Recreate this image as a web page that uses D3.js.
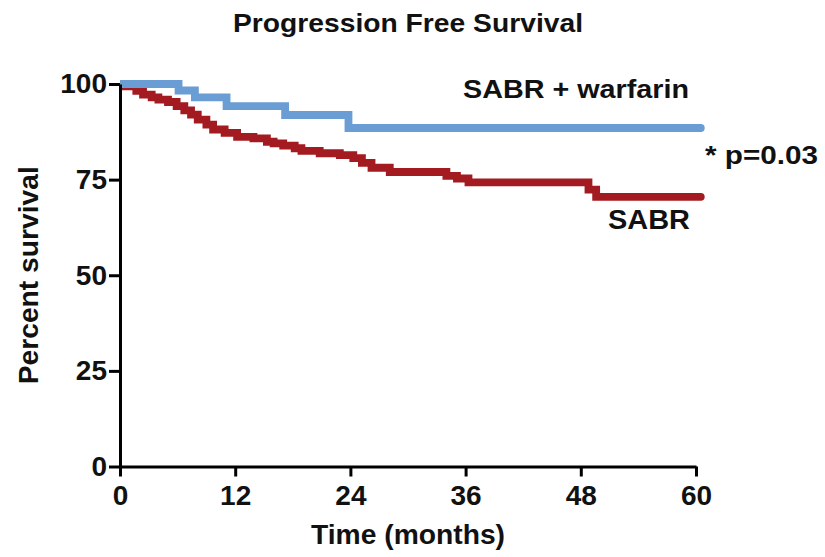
<!DOCTYPE html>
<html>
<head>
<meta charset="utf-8">
<script src="https://cdn.jsdelivr.net/npm/d3@7"></script>
<style>
    body { margin: 0; background: #fff; }
    text { font-family: "Liberation Sans", Arial, sans-serif; font-weight: bold; fill: #111; }
</style>
</head>
<body>
<svg id="Chart"></svg>
<script>
// SABR alone (red)
let sabrTimes = [0, 0.6, 1.7, 2.4, 3.3, 4.0, 5.0, 5.9, 6.7, 7.4, 8.1, 9.0, 9.7, 10.9, 12.2, 13.9,
    15.3, 16.0, 17.0, 18.2, 18.9, 20.8, 22.9, 24.3, 25.2, 26.2, 28.1, 34.0, 35.1, 36.3, 48.8, 49.6, 60.5];
let sabrSurvival = [100, 99.4, 98.2, 97.2, 96.5, 95.9, 95.3, 94.2, 93.1, 92.0, 90.7, 89.4, 88.1, 87.2, 86.2, 85.8,
    84.9, 84.5, 83.9, 83.2, 82.5, 81.9, 81.4, 80.6, 79.4, 78.1, 77.0, 76.0, 75.3, 74.3, 72.4, 70.5, 70.5];

// SABR + warfarin (blue)
let warfTimes = [0, 6.1, 7.8, 11.1, 17.2, 23.8, 60.5];
let warfSurvival = [100, 98.3, 96.5, 94.2, 91.9, 88.5, 88.5];

let xTicks = [0, 12, 24, 36, 48, 60];
let yTicks = [0, 25, 50, 75, 100];

function getConfig() {
    let width = 825;
    let height = 557;
    let margin = { top: 84, bottom: 90.5, left: 120, right: 129 };
    let container = d3.select("#Chart")
        .attr("width", width)
        .attr("height", height);
    return { width, height, margin, container };
}

function getScales(config) {
    let { width, height, margin } = config;
    let xScale = d3.scaleLinear()
        .domain([0, 60])
        .range([margin.left, width - margin.right]);
    let yScale = d3.scaleLinear()
        .domain([0, 100])
        .range([height - margin.bottom, margin.top]);
    return { xScale, yScale };
}

function toPoints(times, values) {
    return times.map((t, i) => ({ t: t, v: values[i] }));
}

function drawCurves(config, scales) {
    let { container, width, height } = config;
    let { xScale, yScale } = scales;

    container.append("clipPath").attr("id", "plotClip")
        .append("rect")
        .attr("x", xScale(0))
        .attr("y", 0)
        .attr("width", width - xScale(0))
        .attr("height", height);

    let line = d3.line()
        .x(d => xScale(d.t))
        .y(d => yScale(d.v))
        .curve(d3.curveStepAfter);

    let curves = [
        { points: toPoints(sabrTimes, sabrSurvival), color: "#a31b21" },
        { points: toPoints(warfTimes, warfSurvival), color: "#6a9dd4" }
    ];

    container.append("g")
        .attr("clip-path", "url(#plotClip)")
        .selectAll("path")
        .data(curves)
        .enter()
        .append("path")
        .attr("d", d => line(d.points))
        .attr("fill", "none")
        .attr("stroke", d => d.color)
        .attr("stroke-width", 7.8)
        .attr("stroke-linejoin", "miter")
        .attr("stroke-linecap", "round");
}

function drawAxes(config, scales) {
    let { container, height, margin } = config;
    let { xScale, yScale } = scales;

    let axisX = d3.axisBottom(xScale)
        .tickValues(xTicks)
        .tickSize(10)
        .tickSizeOuter(0)
        .tickPadding(9);

    let gx = container.append("g")
        .attr("transform", `translate(0,${height - margin.bottom})`)
        .call(axisX);

    let axisY = d3.axisLeft(yScale)
        .tickValues(yTicks)
        .tickSize(11)
        .tickSizeOuter(0)
        .tickPadding(2);

    let gy = container.append("g")
        .attr("transform", `translate(${margin.left},0)`)
        .call(axisY);

    [gx, gy].forEach(g => {
        g.selectAll("path, line").attr("stroke", "#000").attr("stroke-width", 3);
        g.selectAll("text")
            .attr("fill", "#111")
            .style("font-size", "28px")
            .style("font-family", "'Liberation Sans', Arial, sans-serif")
            .style("font-weight", "bold");
    });
}

function drawLabels(config, scales) {
    let { container } = config;
    let { xScale, yScale } = scales;
    let midX = (xScale(0) + xScale(60)) / 2;
    let midY = (yScale(0) + yScale(100)) / 2;

    container.append("text")
        .attr("x", midX).attr("y", 32)
        .attr("text-anchor", "middle")
        .attr("textLength", 350).attr("lengthAdjust", "spacingAndGlyphs")
        .style("font-size", "26px")
        .text("Progression Free Survival");

    container.append("text")
        .attr("x", midX).attr("y", 544)
        .attr("text-anchor", "middle")
        .attr("textLength", 194).attr("lengthAdjust", "spacingAndGlyphs")
        .style("font-size", "28px")
        .text("Time (months)");

    container.append("text")
        .attr("transform", `translate(38,${midY}) rotate(-90)`)
        .attr("text-anchor", "middle")
        .attr("textLength", 218).attr("lengthAdjust", "spacingAndGlyphs")
        .style("font-size", "28px")
        .text("Percent survival");

    container.append("text")
        .attr("x", 463).attr("y", 98)
        .attr("textLength", 226).attr("lengthAdjust", "spacingAndGlyphs")
        .style("font-size", "26px")
        .text("SABR + warfarin");

    container.append("text")
        .attr("x", 705).attr("y", 164)
        .attr("textLength", 113).attr("lengthAdjust", "spacingAndGlyphs")
        .style("font-size", "25px")
        .text("* p=0.03");

    container.append("text")
        .attr("x", 608).attr("y", 229)
        .attr("textLength", 82).attr("lengthAdjust", "spacingAndGlyphs")
        .style("font-size", "27px")
        .text("SABR");
}

function showChart() {
    let config = getConfig();
    let scales = getScales(config);
    drawCurves(config, scales);
    drawAxes(config, scales);
    drawLabels(config, scales);
}

showChart();
</script>
</body>
</html>
